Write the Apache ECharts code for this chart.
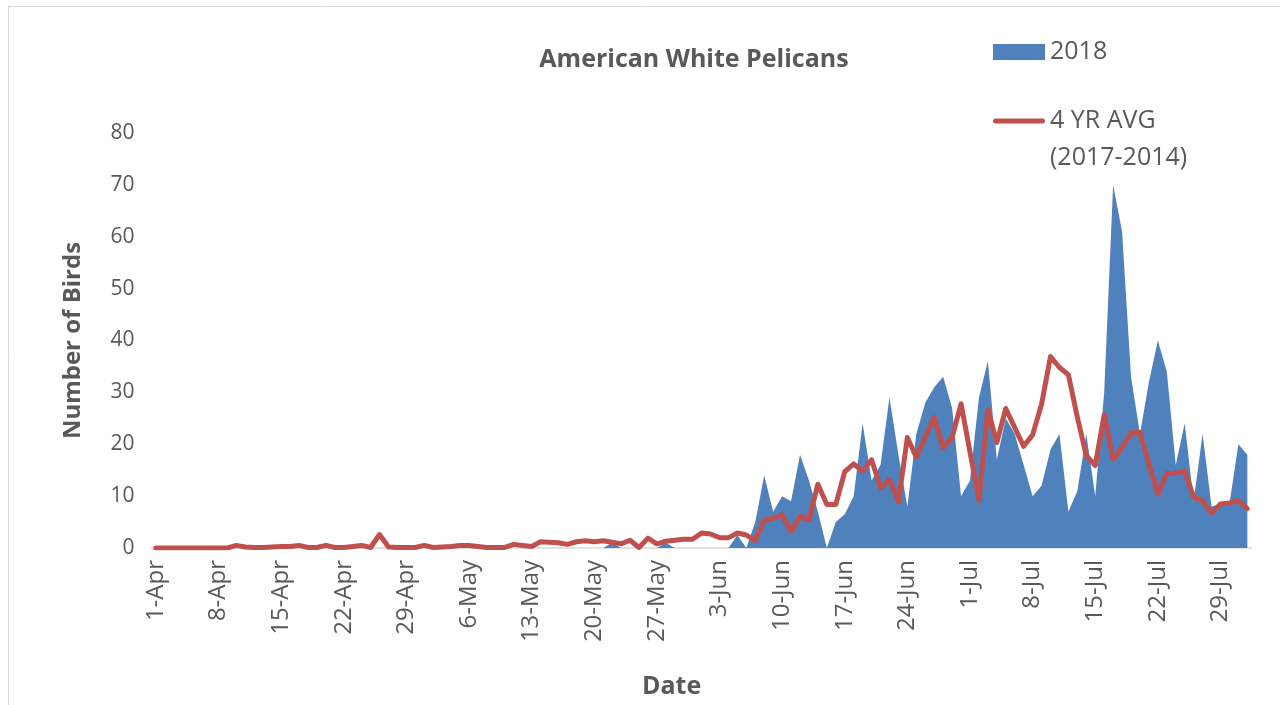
<!DOCTYPE html>
<html>
<head>
<meta charset="utf-8">
<title>American White Pelicans</title>
<script src="https://cdn.jsdelivr.net/npm/echarts@6/dist/echarts.min.js"></script>
<style>
  html, body { margin: 0; padding: 0; background: #ffffff; }
  #chart { width: 1280px; height: 705px; }
</style>
</head>
<body>
<div id="chart"></div>
<script>
// Daily survey counts, 1 April through 1 August
const monthSpans = [['Apr', 30], ['May', 31], ['Jun', 30], ['Jul', 31], ['Aug', 1]];
const dates = [];
monthSpans.forEach(([m, n]) => { for (let i = 1; i <= n; i++) dates.push(i + '-' + m); });

// 2018 counts
const count2018 = [
  0, 0, 0, 0, 0, 0, 0, 0, 0, 0,
  0, 0, 0, 0, 0, 0, 0, 0, 0, 0,
  0, 0, 0, 0, 0, 0, 0, 0, 0, 0,
  0, 0, 0, 0, 0, 0, 0, 0, 0, 0,
  0, 0, 0, 0, 0, 0, 0, 0, 0, 0,
  0, 1, 0, 0, 0, 0, 0, 1, 0, 0,
  0, 0, 0, 0, 0, 2.5, 0, 5, 14, 7,
  10, 9, 18, 13, 7, 0, 5, 6.5, 10, 24,
  13, 16, 29, 18, 8, 22, 28, 31, 33, 27,
  10, 13, 29, 36, 17, 25, 22, 16, 10, 12,
  19, 22, 7, 11, 22, 10, 30, 70, 61, 33,
  22, 32, 40, 34, 16, 24, 9, 22, 8, 8.5,
  8.5, 20, 18
];

// Four-year average (2014-2017)
const avg4yr = [
  0, 0, 0, 0, 0, 0, 0, 0, 0, 0.5,
  0.2, 0.1, 0.1, 0.2, 0.3, 0.3, 0.5, 0.1, 0.1, 0.5,
  0.1, 0.1, 0.3, 0.5, 0.1, 2.6, 0.2, 0.1, 0.1, 0.1,
  0.5, 0.1, 0.2, 0.3, 0.5, 0.5, 0.3, 0.1, 0.1, 0.1,
  0.7, 0.5, 0.3, 1.2, 1.1, 1.0, 0.7, 1.2, 1.4, 1.2,
  1.4, 1.1, 0.8, 1.5, 0.1, 1.9, 0.8, 1.3, 1.5, 1.7,
  1.7, 2.9, 2.7, 2.0, 2.0, 2.9, 2.5, 1.4, 5.4, 5.7,
  6.4, 3.2, 6.1, 5.4, 12.3, 8.4, 8.4, 14.7, 16.2, 14.8,
  17, 11.6, 13.2, 8.9, 21.3, 17.5, 21.4, 25.2, 19.3, 21.3,
  27.8, 18.5, 9.2, 26.7, 20.3, 26.9, 23.2, 19.6, 21.8, 27.7,
  36.9, 34.8, 33.4, 25.2, 17.8, 15.9, 25.7, 17.1, 19.4, 22.2,
  22.3, 16.2, 10.4, 14.4, 14.4, 14.9, 9.8, 9.1, 6.7, 8.5,
  8.7, 9.1, 7.6
];

const seriesNames = ['2018', '4 YR AVG\n(2017-2014)'];
const yMin = 0, yMax = 80, yStep = 10;

const FONT = '"Open Sans", "DejaVu Sans", sans-serif';
const TEXT = '#595959';
const BLUE = '#4f81bd';
const RED = '#c0504d';

// Thick rounded bar used as the legend key for the average line;
// tiny corner specks keep the icon box at the full item size.
const lineKey = 'path://M0,0 L0.01,0 L0.01,0.01 Z ' +
  'M2.5,5.5 L49.5,5.5 A2.5,2.5 0 0 1 49.5,10.5 L2.5,10.5 A2.5,2.5 0 0 1 2.5,5.5 Z ' +
  'M52,16 L51.99,16 L51.99,15.99 Z';

const chart = echarts.init(document.getElementById('chart'), null, { renderer: 'canvas' });
chart.setOption({
  animation: false,
  backgroundColor: '#ffffff',
  textStyle: { fontFamily: FONT },
  graphic: [{
    type: 'rect', silent: true, z: -10,
    shape: { x: 8.5, y: 6.5, width: 1300, height: 720 },
    style: { fill: 'none', stroke: '#d9d9d9', lineWidth: 1 }
  }],
  title: {
    text: 'American White Pelicans',
    left: 689, top: 42, textAlign: 'center',
    textStyle: { fontFamily: FONT, fontSize: 25, fontWeight: 'bold', color: TEXT }
  },
  legend: {
    orient: 'vertical',
    left: 988, top: 34,
    itemWidth: 52, itemHeight: 16, itemGap: 0.5,
    formatter: (name) => (name === seriesNames[1] ? ' \n' + name : name),
    textStyle: { fontFamily: FONT, fontSize: 25, color: TEXT, lineHeight: 26 },
    data: [
      { name: seriesNames[0], icon: 'rect', itemStyle: { color: BLUE } },
      { name: seriesNames[1], icon: lineKey, itemStyle: { color: RED }, textStyle: { lineHeight: 37 } }
    ]
  },
  grid: { left: 151.4, right: 28.2, top: 133, bottom: 157 },
  xAxis: {
    type: 'category',
    data: dates,
    boundaryGap: true,
    name: 'Date',
    nameLocation: 'middle',
    nameGap: 126,
    nameTextStyle: { fontFamily: FONT, fontSize: 25, fontWeight: 'bold', color: TEXT, padding: [0, 60, 0, 0] },
    axisLine: { lineStyle: { color: '#d9d9d9', width: 1.5 } },
    axisTick: { interval: 6, length: 9, lineStyle: { color: '#d9d9d9', width: 1.5 } },
    axisLabel: { interval: 6, rotate: 90, margin: 12, fontFamily: FONT, fontSize: 24, color: TEXT }
  },
  yAxis: {
    type: 'value',
    min: yMin, max: yMax, interval: yStep,
    name: 'Number of Birds',
    nameLocation: 'middle',
    nameRotate: 90,
    nameGap: 66,
    nameTextStyle: { fontFamily: FONT, fontSize: 24, fontWeight: 'bold', color: TEXT },
    axisLine: { show: false },
    axisTick: { show: false },
    splitLine: { show: false },
    axisLabel: { margin: 17, fontFamily: FONT, fontSize: 21, color: TEXT }
  },
  series: [
    {
      name: seriesNames[0],
      type: 'line',
      data: count2018,
      symbol: 'none',
      lineStyle: { width: 0 },
      itemStyle: { color: BLUE },
      areaStyle: { color: BLUE, opacity: 1 },
      z: 1
    },
    {
      name: seriesNames[1],
      type: 'line',
      data: avg4yr,
      symbol: 'none',
      itemStyle: { color: RED },
      lineStyle: { color: RED, width: 5, cap: 'round', join: 'round' },
      z: 2
    }
  ]
});
</script>
</body>
</html>
